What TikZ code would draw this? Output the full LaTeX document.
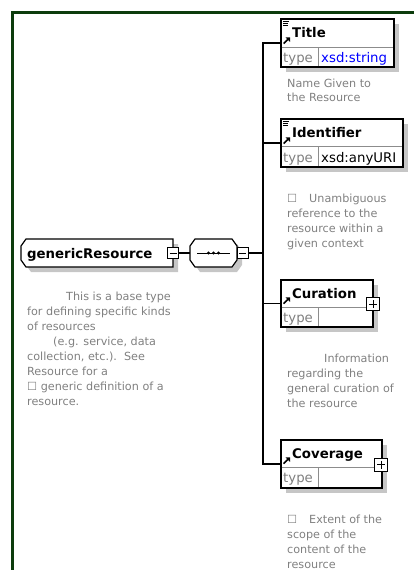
\documentclass[tikz,border=0pt]{standalone}
\usepackage{fontspec}
\setmainfont{DejaVu Sans}
\usetikzlibrary{calc}
\definecolor{framec}{RGB}{12,60,12}
\definecolor{shd}{RGB}{198,198,198}
\definecolor{desc}{RGB}{128,128,128}
\definecolor{xsdblue}{RGB}{0,0,255}
\definecolor{divl}{RGB}{140,140,140}
\begin{document}
\begin{tikzpicture}[x=1pt,y=-1pt,
  shadowc/.style={fill=shd, draw=none},
  elbox/.style={draw=black, line width=1.2pt, fill=white, inner sep=0pt, outer sep=0pt, anchor=north west},
  hdtext/.style={font=\fontsize{13.3}{16}\selectfont\bfseries, anchor=base west, inner sep=0pt},
  typetext/.style={font=\fontsize{13.3}{16}\selectfont, anchor=base west, inner sep=0pt},
  desctext/.style={font=\fontsize{11.2}{14.9}\selectfont, text=desc, align=left, anchor=base west, inner sep=0pt},
  divline/.style={draw=divl, line width=0.8pt},
  conn/.style={draw=black, line width=1.2pt},
  pmbox/.style={draw=black, fill=white, line width=0.9pt, inner sep=0pt, outer sep=0pt},
  sign/.style={draw=black, line width=0.9pt},
  icon/.style={draw=black, line width=0.8pt}
]
\useasboundingbox (0,0) rectangle (413,570);

% frame
\draw[framec, line width=2.4pt, line join=miter] (12.5,571) -- (12.5,12.5) -- (414,12.5);

% ---------- shadows ----------
\fill[shadowc] (286,24) rectangle (399,72);
\fill[shadowc] (286,124) rectangle (408,172);
\fill[shadowc] (286,285) rectangle (378,332);
\fill[shadowc] (286,445) rectangle (387,493);
\fill[shadowc] (31,244) -- (178,244) -- (178,272) -- (31,272) -- (26,265) -- (26,251) -- cycle;
\fill[shadowc] (200,244) -- (237,244) -- (242,251) -- (242,265) -- (237,272) -- (200,272) -- (195,265) -- (195,251) -- cycle;

% ---------- genericResource ----------
\draw[line width=1.2pt, fill=white] (26,239) -- (173,239) -- (173,267) -- (26,267) -- (21,260) -- (21,246) -- cycle;
\node[hdtext] (gr) at (27,258.5) {genericResource};
\node[pmbox, minimum size=11pt] (grm) at (173,253) {};
\draw[sign] ($(grm.center)+(-3.5,0)$) -- ($(grm.center)+(3.5,0)$);

% ---------- sequence ----------
\draw[line width=1.2pt, fill=white] (195,239) -- (232,239) -- (237,246) -- (237,260) -- (232,267) -- (195,267) -- (190,260) -- (190,246) -- cycle;
\node[minimum width=47pt, minimum height=28pt, inner sep=0pt, outer sep=0pt] (seq) at (213.5,253) {};
\draw[line width=1pt] (197,253) -- (230,253);
\fill (208.5,253) circle (1.7) (213.5,253) circle (1.7) (218.5,253) circle (1.7);
\node[pmbox, minimum size=11pt] (seqm) at (242.5,253) {};
\draw[sign] ($(seqm.center)+(-3.5,0)$) -- ($(seqm.center)+(3.5,0)$);

% ---------- Title ----------
\node[elbox, minimum width=113pt, minimum height=48pt] (title) at (281,19) {};
\draw[divline] (281.6,47) -- (393.4,47) (318,47) -- (318,66.4);
\draw[icon] (283,21.5) -- (289,21.5) (283,23.5) -- (288,23.5) (283,25.5) -- (288,25.5);
\fill (285.5,37.3) -- (290,37.3) -- (290,41.8) -- cycle;
\draw[line width=1.6pt] (283.6,43.6) -- (288,39.2);
\node[hdtext] (title-l) at (292,37) {Title};
\node[typetext, text=desc] (title-tk) at (283,62) {type};
\node[typetext, text=xsdblue] (title-tv) at (321,62) {xsd:string};
\node[desctext] (title-d) at (287,101.9) {Name Given to\\the Resource};

% ---------- Identifier ----------
\node[elbox, minimum width=122pt, minimum height=48pt] (identifier) at (281,119) {};
\draw[divline] (281.6,146) -- (402.4,146) (318,146) -- (318,166.4);
\draw[icon] (283,121.5) -- (289,121.5) (283,123.5) -- (288,123.5) (283,125.5) -- (288,125.5);
\fill (285.5,137.3) -- (290,137.3) -- (290,141.8) -- cycle;
\draw[line width=1.6pt] (283.6,143.6) -- (288,139.2);
\node[hdtext] (identifier-l) at (292,137) {Identifier};
\node[typetext, text=desc] (identifier-tk) at (283,162) {type};
\node[typetext] (identifier-tv) at (321,162) {xsd:anyURI};
\node[desctext] (identifier-d) at (287,247) {☐\hspace{12pt}Unambiguous\\reference to the\\resource within a\\given context};

% ---------- Curation ----------
\node[elbox, minimum width=92pt, minimum height=47pt] (curation) at (281,280) {};
\draw[divline] (281.6,307) -- (372.4,307) (318,307) -- (318,326.4);
\fill (285.5,297.3) -- (290,297.3) -- (290,301.8) -- cycle;
\draw[line width=1.6pt] (283.6,303.6) -- (288,299.2);
\node[hdtext] (curation-l) at (292,298) {Curation};
\node[typetext, text=desc] (curation-tk) at (283,322) {type};
\node[pmbox, minimum size=13pt] (curp) at (373,304) {};
\draw[sign] ($(curp.center)+(-4,0)$) -- ($(curp.center)+(4,0)$) ($(curp.center)+(0,-4)$) -- ($(curp.center)+(0,4)$);
\node[desctext] (curation-d) at (287,407) {\hspace*{37pt}Information\\regarding the\\general curation of\\the resource};

% ---------- Coverage ----------
\node[elbox, minimum width=101pt, minimum height=48pt] (coverage) at (281,440) {};
\draw[divline] (281.6,467) -- (381.4,467) (318,467) -- (318,487.4);
\fill (285.5,457.3) -- (290,457.3) -- (290,461.8) -- cycle;
\draw[line width=1.6pt] (283.6,463.6) -- (288,459.2);
\node[hdtext] (coverage-l) at (292,458) {Coverage};
\node[typetext, text=desc] (coverage-tk) at (283,482) {type};
\node[pmbox, minimum size=13pt] (covp) at (381,464.5) {};
\draw[sign] ($(covp.center)+(-4,0)$) -- ($(covp.center)+(4,0)$) ($(covp.center)+(0,-4)$) -- ($(covp.center)+(0,4)$);
\node[desctext] (coverage-d) at (287,568) {☐\hspace{12pt}Extent of the\\scope of the\\content of the\\resource};

% ---------- genericResource description ----------
\node[desctext] (gr-d) at (27,405.1) {\hspace*{39pt}This is a base type\\for defining specific kinds\\of resources\\\hspace*{26pt}(e.g. service, data\\collection, etc.).\ \ See\\Resource for a\\☐ generic definition of a\\resource.};

% ---------- connectors ----------
\coordinate (trunk) at (263,253);
\draw[conn] (grm.east) -- (seq.west);
\draw[conn] (seqm.east) -- (trunk);
\draw[conn] (title.west) -| (trunk) |- (coverage.west);
\draw[conn] (identifier.west) -- (identifier.west -| trunk);
\draw[conn] (curation.west) -- (curation.west -| trunk);
\end{tikzpicture}
\end{document}
